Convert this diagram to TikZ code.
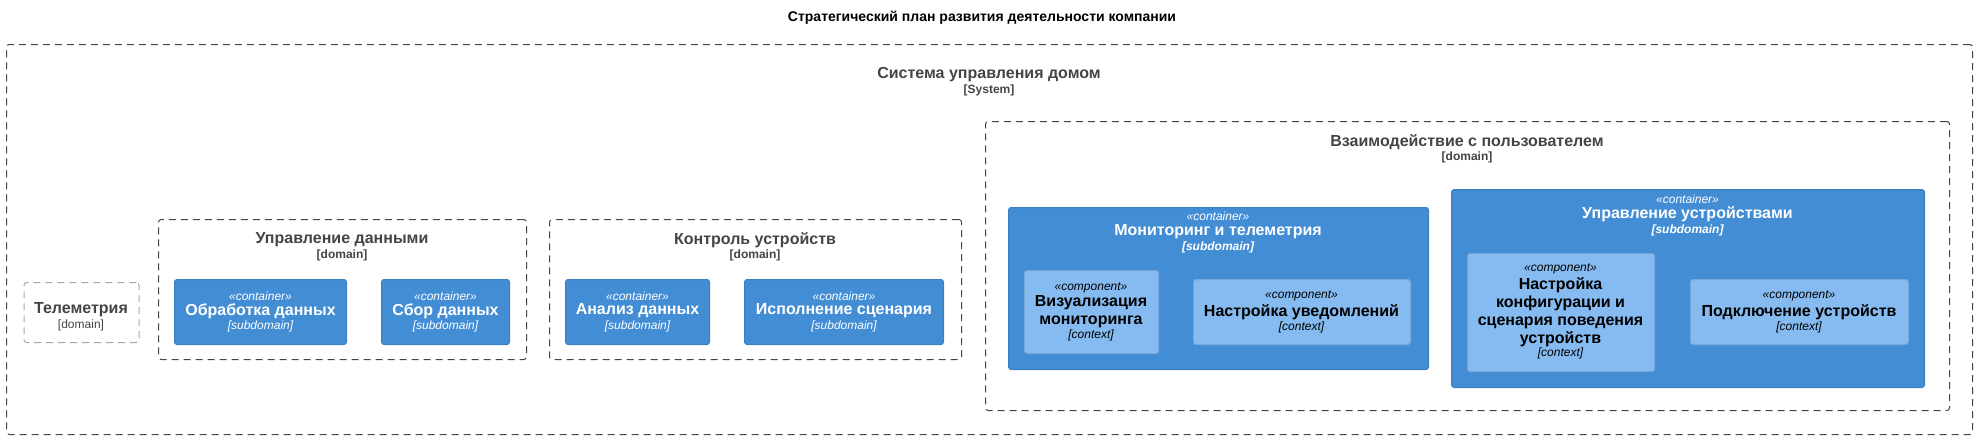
\documentclass[tikz,border=0pt]{standalone}
\usepackage{fontspec}
\setmainfont{Liberation Sans}
\usetikzlibrary{calc}
\definecolor{ctnrblue}{HTML}{438DD5}
\definecolor{ctnrline}{HTML}{3C7FC0}
\definecolor{cmptblue}{HTML}{85BBF0}
\definecolor{cmptline}{HTML}{78A8D8}
\definecolor{bndgray}{HTML}{444444}
\definecolor{extgray}{HTML}{A6A6A6}
\tikzset{
  boxsize/.style 2 args={minimum width=#1*0.75pt, minimum height=#2*0.75pt},
  bnd/.style={draw=bndgray, line width=0.75pt, dash pattern=on 5.25pt off 3.75pt, rounded corners=2pt, inner sep=0pt, anchor=north west},
  extbnd/.style={bnd, draw=extgray},
  ctnr/.style={fill=ctnrblue, draw=ctnrline, line width=0.75pt, rounded corners=2pt, inner sep=0pt, anchor=north west},
  cmpt/.style={fill=cmptblue, draw=cmptline, line width=0.75pt, rounded corners=2pt, inner sep=0pt, anchor=north west},
  txt/.style={inner sep=0pt, anchor=center, align=center},
  bigname/.style={txt, font=\fontsize{12}{13.5}\selectfont\bfseries},
  smalltag/.style={txt, font=\fontsize{9}{11}\selectfont\bfseries},
  stereo/.style={txt, font=\fontsize{9}{11}\selectfont\itshape},
}
\begin{document}
\begin{tikzpicture}[x=0.75pt, y=-0.75pt, line join=round]
  \useasboundingbox (0,0) rectangle (1977,439);
  % title
  \node[txt, font=\fontsize{10.5}{12}\selectfont\bfseries] (title) at (982,17.5) {Стратегический план развития деятельности компании};

  % system boundary
  \node[bnd, boxsize={1966}{390}] (sys) at (6,44) {};
  \node[bigname, text=bndgray] (sysname) at (989,75) {Система управления домом};
  \node[smalltag, text=bndgray] (systag) at (989,90) {[System]};

  % empty domain
  \node[extbnd, boxsize={115}{60}] (telem) at (23.5,282) {};
  \node[bigname, text=bndgray] (telemname) at (81,310) {Телеметрия};
  \node[txt, font=\fontsize{9}{11}\selectfont, text=bndgray] (telemtag) at (81,325) {[domain]};

  % domains
  \node[bnd, boxsize={368}{140}] (data) at (158,219) {};
  \node[bigname, text=bndgray] (dataname) at (342,240) {Управление данными};
  \node[smalltag, text=bndgray] (datatag) at (342,255.5) {[domain]};

  \node[bnd, boxsize={412}{140}] (ctrl) at (549,219) {};
  \node[bigname, text=bndgray] (ctrlname) at (755,240) {Контроль устройств};
  \node[smalltag, text=bndgray] (ctrltag) at (755,255.5) {[domain]};

  \node[bnd, boxsize={964}{289}] (user) at (985,121) {};
  \node[bigname, text=bndgray] (username) at (1467,142.5) {Взаимодействие с пользователем};
  \node[smalltag, text=bndgray] (usertag) at (1467,157.5) {[domain]};

  % simple containers
  \foreach \i/\x/\w/\nm in {obr/174/172/Обработка данных, sbor/381/128/Сбор данных, anl/565/144/Анализ данных, isp/744/199/Исполнение сценария}{
    \node[ctnr, boxsize={\w}{65}] (\i) at (\x,279) {};
    \node[stereo, text=white] (\i st) at ($(\i.north)+(0,17)$) {«container»};
    \node[bigname, text=white] (\i nm) at ($(\i.north)+(0,32)$) {\nm};
    \node[stereo, text=white] (\i tg) at ($(\i.north)+(0,47.5)$) {[subdomain]};
  }

  % container with components: monitoring
  \node[ctnr, boxsize={420}{162}] (mon) at (1008,207) {};
  \node[stereo, text=white] (monst) at (1218,216) {«container»};
  \node[bigname, text=white] (monnm) at (1218,231.5) {Мониторинг и телеметрия};
  \node[txt, font=\fontsize{9}{11}\selectfont\bfseries\itshape, text=white] (montg) at (1218,247) {[subdomain]};

  \node[cmpt, boxsize={134}{83}] (vis) at (1024,270) {};
  \node[stereo] (visst) at (1091,288) {«component»};
  \node[bigname] (visnm) at (1091,312) {Визуализация\\мониторинга};
  \node[stereo] (vistg) at (1091,335) {[context]};

  \node[cmpt, boxsize={217}{65}] (notif) at (1193,279) {};
  \node[stereo] (notifst) at (1301.5,296) {«component»};
  \node[bigname] (notifnm) at (1301.5,312) {Настройка уведомлений};
  \node[stereo] (notiftg) at (1301.5,327) {[context]};

  % container with components: devices
  \node[ctnr, boxsize={473}{198}] (dev) at (1451,189) {};
  \node[stereo, text=white] (devst) at (1687.5,199) {«container»};
  \node[bigname, text=white] (devnm) at (1687.5,214) {Управление устройствами};
  \node[txt, font=\fontsize{9}{11}\selectfont\bfseries\itshape, text=white] (devtg) at (1687.5,230) {[subdomain]};

  \node[cmpt, boxsize={187}{118}] (conf) at (1467,253) {};
  \node[stereo] (confst) at (1560.5,269) {«component»};
  \node[bigname] (confnm) at (1560.5,312.5) {Настройка\\конфигурации и\\сценария поведения\\устройств};
  \node[stereo] (conftg) at (1560.5,353) {[context]};

  \node[cmpt, boxsize={218}{65}] (conn) at (1690,279) {};
  \node[stereo] (connst) at (1799,296) {«component»};
  \node[bigname] (connnm) at (1799,312) {Подключение устройств};
  \node[stereo] (conntg) at (1799,327) {[context]};
\end{tikzpicture}
\end{document}
